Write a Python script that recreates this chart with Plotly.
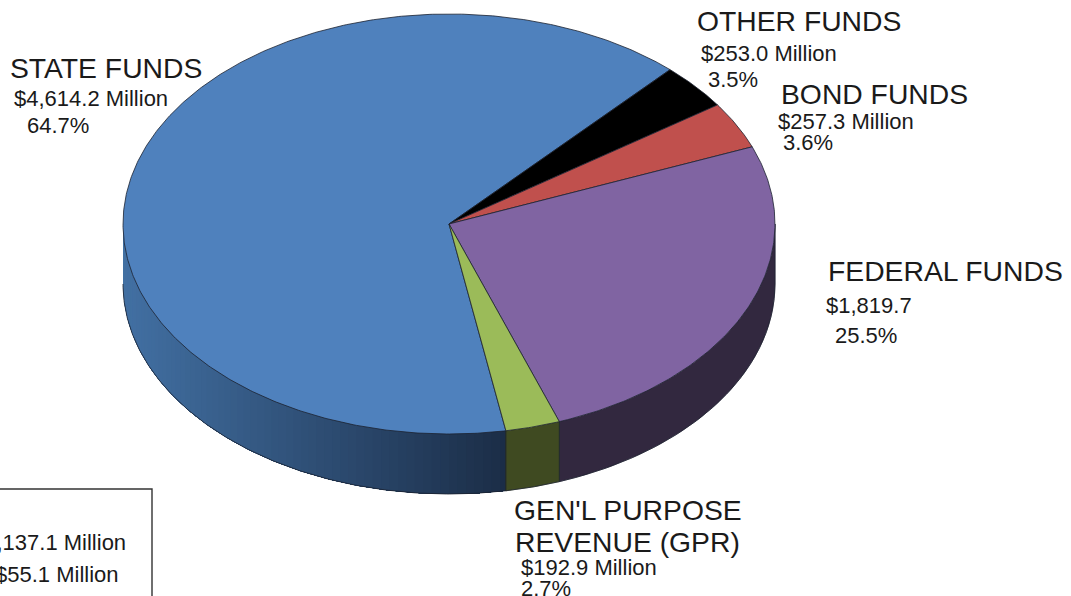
import math
import plotly.graph_objects as go

# ---- data ----
categories = ["STATE FUNDS", "OTHER FUNDS", "BOND FUNDS", "FEDERAL FUNDS", "GEN'L PURPOSE REVENUE (GPR)"]
values = [4614.2, 253.0, 257.3, 1819.7, 192.9]
amount_labels = ["$4,614.2 Million", "$253.0 Million", "$257.3 Million", "$1,819.7", "$192.9 Million"]
percent_labels = ["64.7%", "3.5%", "3.6%", "25.5%", "2.7%"]
total_labels = ["$7,137.1 Million", "$55.1 Million"]

top_colors = ["#4f81bd", "#000000", "#c0504d", "#8064a2", "#9bbb59"]
side_colors = [None, "#000000", "#7a302e", "#32283f", "#3f4a21"]

# ---- pie projection ----
W, H = 1071, 596
CX, CY, RX, RY, DEPTH = 449, 224, 326, 210, 60
START = 169.95
OUTLINE = "#1c2230"
FONT = "Liberation Sans, Arial, sans-serif"


def pt(theta, drop=0.0):
    r = math.radians(theta)
    return CX + RX * math.sin(r), CY - RY * math.cos(r) + drop


def arc(a, b, drop=0.0, step=0.5):
    n = max(2, int(abs(b - a) / step) + 1)
    return [pt(a + (b - a) * i / (n - 1), drop) for i in range(n)]


def poly(points, fill, line=None, width=0.8):
    xs = [p[0] for p in points] + [points[0][0]]
    ys = [p[1] for p in points] + [points[0][1]]
    return go.Scatter(x=xs, y=ys, mode="lines", fill="toself", fillcolor=fill,
                      line=dict(color=line or fill, width=width), hoverinfo="skip", showlegend=False)


def blue_shade(x):
    t = min(1, max(0, (x - (CX - RX)) / 382))
    a, b = (66, 112, 163), (27, 45, 71)
    return "rgb(%d,%d,%d)" % tuple(round(a[i] + (b[i] - a[i]) * t) for i in range(3))


total = sum(values)
spans = []
angle = START
for v in values:
    spans.append((angle, angle + v / total * 360))
    angle += v / total * 360

fig = go.Figure()

# sides (only the front half of the rim is visible)
for (a, b), side in zip(spans, side_colors):
    for shift in (-360, 0):
        lo, hi = max(a + shift, 90), min(b + shift, 270)
        if hi <= lo:
            continue
        if side is None:
            # painter's order: each band runs on to the far end so no seams show
            theta = hi
            while theta > lo + 1e-6:
                nxt = max(theta - 1.5, lo)
                c = blue_shade(pt((theta + nxt) / 2)[0])
                fig.add_trace(poly(arc(theta, lo) + arc(lo, theta, DEPTH), c, c, 0))
                theta = nxt
        else:
            fig.add_trace(poly(arc(lo, hi) + arc(hi, lo, DEPTH), side, side, 0.6))
        xs, ys = zip(*arc(lo, hi, DEPTH))
        fig.add_trace(go.Scatter(x=xs, y=ys, mode="lines", line=dict(color=OUTLINE, width=0.8),
                                 hoverinfo="skip", showlegend=False))
        for th in (lo, hi):
            if 90 < th < 270:
                p, q = pt(th), pt(th, DEPTH)
                fig.add_trace(go.Scatter(x=[p[0], q[0]], y=[p[1], q[1]], mode="lines",
                                         line=dict(color=OUTLINE, width=0.8),
                                         hoverinfo="skip", showlegend=False))

# right rim edge
p, q = pt(90), pt(90, DEPTH)
fig.add_trace(go.Scatter(x=[p[0], q[0]], y=[p[1], q[1]], mode="lines", line=dict(color=OUTLINE, width=0.8),
                         hoverinfo="skip", showlegend=False))

# top faces
for (a, b), c in zip(spans, top_colors):
    fig.add_trace(poly([(CX, CY)] + arc(a, b), c, OUTLINE, 0.8))

annotations = []


def label(text, x, y, size, anchor="left"):
    annotations.append(dict(text=text, x=x - 2.5 if anchor == "left" else x + 2, y=y, xref="x", yref="y",
                            xanchor=anchor, yanchor="middle",
                            showarrow=False, font=dict(family=FONT, size=size, color="#1a1a1a")))


HEAD, SUB = 28.3, 22
label(categories[0], 10, 68, HEAD)
label(amount_labels[0], 14, 98, SUB)
label(percent_labels[0], 27, 125, SUB)
label(categories[1], 697, 21, HEAD)
label(amount_labels[1], 701, 53, SUB)
label(percent_labels[1], 708, 79, SUB)
label(categories[2], 781, 94, HEAD)
label(amount_labels[2], 778, 121, SUB)
label(percent_labels[2], 783, 142, SUB)
label(categories[3], 828, 271, HEAD)
label(amount_labels[3], 826, 305, SUB)
label(percent_labels[3], 835, 335, SUB)
label("GEN'L PURPOSE", 514, 510, HEAD)
label("REVENUE (GPR)", 515, 542, HEAD)
label(amount_labels[4], 521, 567, SUB)
label(percent_labels[4], 521, 588, SUB)
label(total_labels[0], 126, 542, SUB, "right")
label(total_labels[1], 119, 574, SUB, "right")

fig.update_layout(
    width=W, height=H, margin=dict(l=0, r=0, t=0, b=0),
    paper_bgcolor="white", plot_bgcolor="white", showlegend=False,
    xaxis=dict(range=[0, W], visible=False, fixedrange=True),
    yaxis=dict(range=[H, 0], visible=False, fixedrange=True),
    annotations=annotations,
    shapes=[dict(type="rect", xref="x", yref="y", x0=-20, x1=152, y0=489, y1=640,
                 line=dict(color="#333333", width=1.4), fillcolor="rgba(0,0,0,0)")],
)

fig.write_html("out.html", config={"displayModeBar": False},
               post_script="document.body.style.margin='0';document.documentElement.style.overflow='hidden';")
